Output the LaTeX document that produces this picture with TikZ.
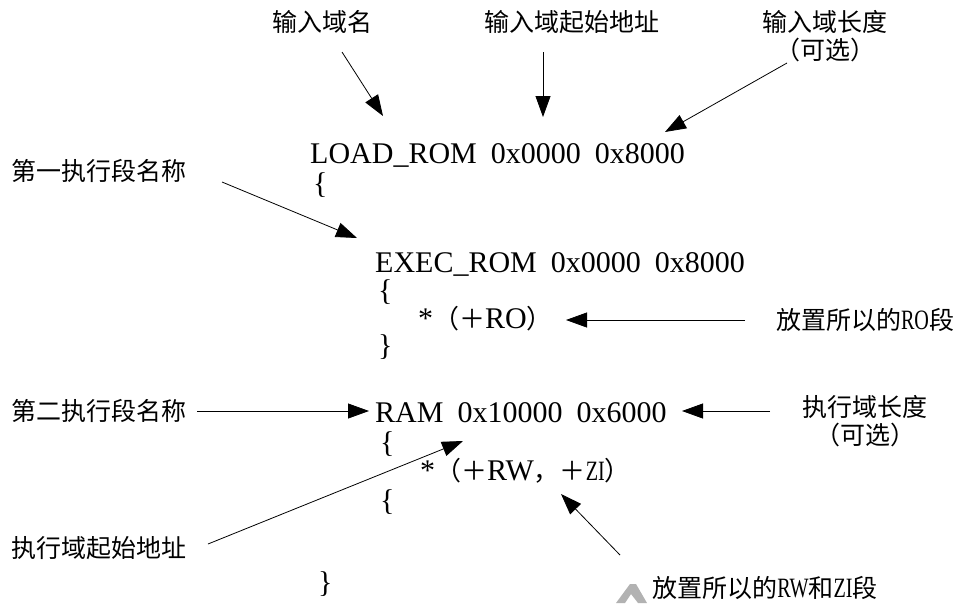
\documentclass[tikz,border=0pt]{standalone}
\usepackage{fontspec}
\setmainfont{Liberation Serif}
\newfontfamily\cjk{Noto Sans CJK SC}
\newfontfamily\narrowlat[FakeStretch=0.72]{Liberation Serif}
\usetikzlibrary{arrows.meta}

% CJK punctuation inside the code lines
\newcommand{\cjtxt}[1]{{\cjk\fontsize{26}{26}\selectfont #1}}
% narrow Latin letters as set by the CJK font
\newcommand{\nlat}[1]{{\narrowlat\fontsize{28}{28}\selectfont #1}}

\begin{document}
\begin{tikzpicture}[x=1pt,y=-1pt,
  code/.style={anchor=base west, inner sep=0pt, font=\fontsize{30}{30}\selectfont},
  lbl/.style={inner sep=0pt, align=center, font=\cjk\fontsize{25}{28}\selectfont},
  ptr/.style={-{Triangle[length=21pt,width=15pt]}, line width=0.8pt}]

\useasboundingbox (0,0) rectangle (958,603);

% ---- scatter-loading description ----
\node[code] (load)  at (310,163) {LOAD\_ROM\hspace{14pt}0x0000\hspace{14pt}0x8000};
\node[code] (ob1)   at (313,193) {\{};
\node[code] (exec)  at (375,272) {EXEC\_ROM\hspace{14pt}0x0000\hspace{14pt}0x8000};
\node[code] (ob2)   at (378,300) {\{};
\node[code] (ro)    at (418,328) {*\cjtxt{（＋}RO\cjtxt{）}};
\node[code] (cb2)   at (378,355) {\}};
\node[code] (ram)   at (375,422) {RAM\hspace{14pt}0x10000\hspace{14pt}0x6000};
\node[code] (ob3)   at (380,452) {\{};
\node[code] (rwzi)  at (420,480) {*\cjtxt{（＋}RW\cjtxt{，＋}\nlat{ZI}\cjtxt{）}};
\node[code] (ob4)   at (380,510) {\{};
\node[code] (cb1)   at (318,592) {\}};

% ---- annotations ----
\node[lbl] (inname)  at (322,22)  {输入域名};
\node[lbl] (inaddr)  at (572,22)  {输入域起始地址};
\node[lbl] (inlen)   at (825,36)  {输入域长度\\（可选）};
\node[lbl] (sec1)    at (99,171)  {第一执行段名称};
\node[lbl] (rolbl)   at (865,320) {放置所以的\nlat{RO}段};
\node[lbl] (sec2)    at (99,411)  {第二执行段名称};
\node[lbl] (exlen)   at (865,421) {执行域长度\\（可选）};
\node[lbl] (exaddr)  at (99,548)  {执行域起始地址};
\node[lbl] (rwlbl)   at (765,588) {放置所以的\nlat{RW}和\nlat{ZI}段};

% ---- pointer ends ----
\coordinate (p1s) at (342,52);  \coordinate (p1e) at (383,116);
\coordinate (p2s) at (543,52);  \coordinate (p2e) at (543,117);
\coordinate (p3s) at (787,63);  \coordinate (p3e) at (665,132);
\coordinate (p4s) at (222,182); \coordinate (p4e) at (357,238);
\coordinate (p5s) at (745,320); \coordinate (p5e) at (566,320);
\coordinate (p6s) at (197,411); \coordinate (p6e) at (369,411);
\coordinate (p7s) at (770,411); \coordinate (p7e) at (682,411);
\coordinate (p8s) at (208,544); \coordinate (p8e) at (463,441);
\coordinate (p9s) at (620,555); \coordinate (p9e) at (561,494);

\draw[ptr] (p1s) -- (p1e);
\draw[ptr] (p2s) -- (p2e);
\draw[ptr] (p3s) -- (p3e);
\draw[ptr] (p4s) -- (p4e);
\draw[ptr] (p5s) -- (p5e);
\draw[ptr] (p6s) -- (p6e);
\draw[ptr] (p7s) -- (p7e);
\draw[ptr] (p8s) -- (p8e);
\draw[ptr] (p9s) -- (p9e);

% grey chevron mark at the lower edge
\fill[gray!60] (616,603) -- (630,584) -- (636,584) -- (647,603) -- (638,603)
  -- (631,594) -- (625,603) -- cycle;
\end{tikzpicture}
\end{document}
